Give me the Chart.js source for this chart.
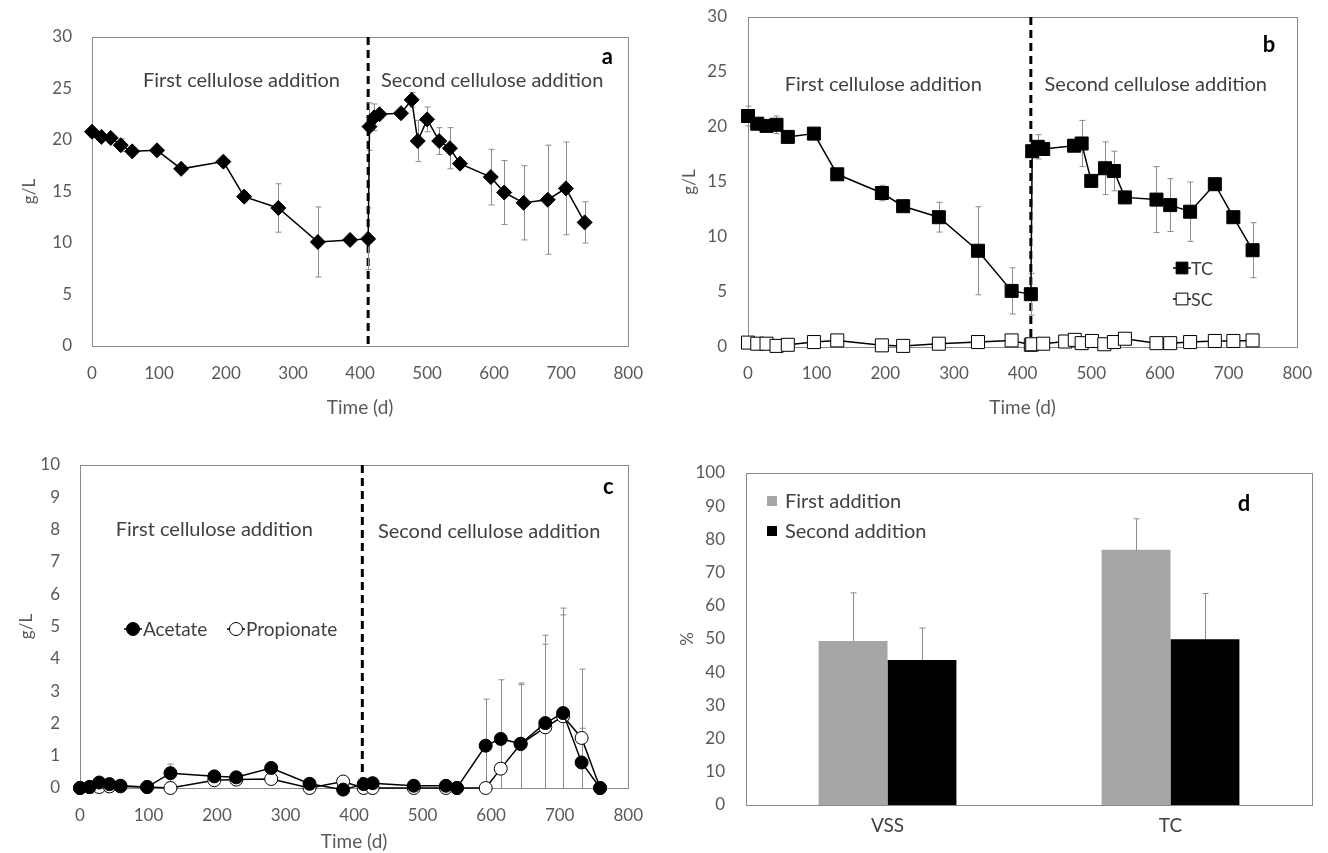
<!DOCTYPE html>
<html>
<head>
<meta charset="utf-8">
<script src="https://cdn.jsdelivr.net/npm/chart.js@4.4.1/dist/chart.umd.min.js"></script>
<style>
  html, body { margin: 0; padding: 0; background: #fff; }
  #wrap { position: relative; width: 1328px; height: 853px; overflow: hidden; }
  #wrap canvas { position: absolute; }
</style>
</head>
<body>
<div id="wrap">
  <canvas id="panelA" style="left:0;top:0" width="660" height="430"></canvas>
  <canvas id="panelB" style="left:660px;top:0" width="668" height="430"></canvas>
  <canvas id="panelC" style="left:0;top:430px" width="660" height="423"></canvas>
  <canvas id="panelD" style="left:660px;top:430px" width="668" height="423"></canvas>
</div>
<script>
// day of the second cellulose addition (dashed line)
const ADDITION_DAY = 412;

// a: cellulose, g/L
const dayA = [0, 14, 28, 43, 60, 97, 133, 196, 227, 278, 337, 385, 412, 414, 421, 429, 461, 477, 486, 500, 518, 534, 549, 595, 615, 644, 680, 707, 735];
const cellA = [20.8, 20.3, 20.2, 19.5, 18.9, 19.0, 17.2, 17.9, 14.5, 13.4, 10.1, 10.3, 10.4, 21.3, 22.2, 22.5, 22.6, 23.9, 19.9, 22.0, 19.9, 19.2, 17.7, 16.4, 14.9, 13.9, 14.2, 15.3, 12.0];
const cellAErr = [0, 0, 0, 0.6, 0, 0, 0, 0, 0.5, 2.35, 3.4, 0, 3.0, 2.3, 1.3, 0, 0, 0.7, 2.0, 1.2, 1.3, 2.0, 0, 2.7, 3.1, 3.6, 5.3, 4.5, 2.0];

// b: total (TC) and soluble (SC) carbohydrates, g/L
const dayTC = [0, 13.5, 27, 41.5, 58, 96, 130, 195, 226, 278, 335, 384, 412, 414, 422, 430, 475, 486, 500, 520, 533, 549, 595, 615, 644, 680, 707, 735];
const tc = [21.0, 20.3, 20.1, 20.2, 19.1, 19.4, 15.7, 14.0, 12.8, 11.8, 8.75, 5.1, 4.8, 17.8, 18.2, 18.0, 18.3, 18.5, 15.1, 16.25, 16.0, 13.6, 13.4, 12.9, 12.3, 14.8, 11.8, 8.8];
const tcErr = [0.9, 0, 0, 0.8, 0, 0, 0, 0.7, 0, 1.35, 4.0, 2.1, 1.9, 0, 1.1, 0, 0, 2.1, 0, 2.4, 1.8, 0, 3.0, 2.4, 2.7, 0, 0, 2.5];
const daySC = [0, 13.5, 27, 41.5, 58, 96, 130, 195, 226, 278, 335, 384, 412, 414, 430, 462, 476, 486, 501, 519, 533, 549, 595, 615, 644, 680, 707, 735];
const sc = [0.4, 0.3, 0.3, 0.1, 0.2, 0.45, 0.6, 0.15, 0.1, 0.3, 0.45, 0.6, 0.2, 0.25, 0.3, 0.5, 0.65, 0.35, 0.55, 0.25, 0.45, 0.75, 0.35, 0.35, 0.45, 0.55, 0.55, 0.6];

// c: volatile fatty acids, g/L
const dayVFA = [0, 14, 28, 43, 59, 98, 132, 196, 228, 279, 335, 384, 414, 427, 487, 534, 550, 592, 614, 643, 679, 705, 732, 759];
const acetate = [0, 0.03, 0.17, 0.12, 0.07, 0.03, 0.46, 0.36, 0.33, 0.62, 0.13, -0.05, 0.12, 0.15, 0.07, 0.07, 0, 1.31, 1.52, 1.37, 2.01, 2.32, 0.79, 0];
const acetateErr = [0, 0, 0, 0, 0, 0, 0.28, 0, 0, 0, 0, 0, 0, 0, 0, 0, 0, 1.44, 1.83, 1.88, 2.72, 3.25, 1.06, 0];
const propionate = [0, 0.03, 0.03, 0.05, 0.05, 0.03, 0, 0.24, 0.26, 0.28, 0, 0.2, 0, 0, 0, 0, 0, 0, 0.6, 1.36, 1.88, 2.22, 1.55, 0];
const propionateErr = [0, 0, 0, 0, 0, 0, 0, 0, 0, 0, 0, 0, 0, 0, 0, 0, 0, 0, 0, 1.84, 2.57, 3.14, 2.13, 0];

// d: removal, %
const removalCats = ['VSS', 'TC'];
const firstAddition = [49.4, 76.9];
const firstAdditionErr = [14.5, 9.3];
const secondAddition = [43.7, 49.9];
const secondAdditionErr = [9.6, 13.8];

Chart.defaults.font.family = 'Lato, "Noto Sans", sans-serif';
Chart.defaults.devicePixelRatio = 1;

const TICK_COLOR = '#595959';
const TEXT_COLOR = '#404040';

const pts = (xs, ys) => xs.map((x, i) => ({ x, y: ys[i] }));

// frame, dashed divider, error bars, labels and legend drawn on top of the chart area
const panelDecor = {
  id: 'panelDecor',
  beforeDatasetsDraw(chart, args, opts) {
    const { ctx, chartArea: a, scales } = chart;
    ctx.save();
    ctx.strokeStyle = '#898989';
    ctx.lineWidth = 1;
    ctx.strokeRect(Math.round(a.left) + 0.5, Math.round(a.top) + 0.5,
      Math.round(a.right - a.left), Math.round(a.bottom - a.top));

    if (opts.divider != null) {
      const x = scales.x.getPixelForValue(opts.divider);
      ctx.strokeStyle = '#000';
      ctx.lineWidth = 3;
      ctx.setLineDash([8, 5]);
      ctx.beginPath();
      ctx.moveTo(x, a.top);
      ctx.lineTo(x, a.bottom);
      ctx.stroke();
      ctx.setLineDash([]);
    }

    ctx.strokeStyle = '#8c8c8c';
    ctx.lineWidth = 1;
    chart.data.datasets.forEach((ds, i) => {
      if (!ds.errors) return;
      chart.getDatasetMeta(i).data.forEach((el, j) => {
        const e = ds.errors[j];
        if (!e) return;
        const d = ds.data[j];
        const v = typeof d === 'number' ? d : d.y;
        const yHi = scales.y.getPixelForValue(v + e);
        const yLo = scales.y.getPixelForValue(v - e);
        const x = Math.round(el.x) + 0.5;
        ctx.beginPath();
        ctx.moveTo(x, Math.max(yHi, a.top));
        ctx.lineTo(x, Math.min(yLo, a.bottom));
        if (yHi >= a.top) { ctx.moveTo(x - 3, yHi); ctx.lineTo(x + 3, yHi); }
        if (yLo <= a.bottom) { ctx.moveTo(x - 3, yLo); ctx.lineTo(x + 3, yLo); }
        ctx.stroke();
      });
    });
    ctx.restore();
  },
  afterDatasetsDraw(chart, args, opts) {
    const { ctx, scales } = chart;
    ctx.save();
    ctx.textBaseline = 'middle';
    (opts.texts || []).forEach(t => {
      ctx.font = (t.bold ? 'bold ' : '') + t.size + 'px ' + Chart.defaults.font.family;
      ctx.fillStyle = t.color || TEXT_COLOR;
      ctx.textAlign = 'center';
      ctx.fillText(t.text, scales.x.getPixelForValue(t.x), scales.y.getPixelForValue(t.y));
    });
    (opts.legend || []).forEach(item => {
      const ds = chart.data.datasets[item.index];
      ctx.lineWidth = ds.borderWidth || 1;
      if (item.kind === 'bar') {
        ctx.fillStyle = ds.backgroundColor;
        ctx.fillRect(item.x - 5, item.y - 5, 10, 10);
      } else {
        ctx.strokeStyle = ds.borderColor;
        ctx.beginPath();
        ctx.moveTo(item.x - 9, item.y);
        ctx.lineTo(item.x + 9, item.y);
        ctx.stroke();
        ctx.fillStyle = ds.pointBackgroundColor;
        ctx.strokeStyle = ds.pointBorderColor;
        ctx.lineWidth = ds.pointBorderWidth;
        Chart.helpers.drawPoint(ctx, {
          pointStyle: ds.pointStyle, radius: item.radius || ds.pointRadius,
          rotation: 0, borderWidth: ds.pointBorderWidth
        }, item.x, item.y);
      }
      ctx.font = item.size + 'px ' + Chart.defaults.font.family;
      ctx.fillStyle = TEXT_COLOR;
      ctx.textAlign = 'left';
      ctx.fillText(ds.label, item.textX, item.y + 1);
    });
    ctx.restore();
  }
};

function valueAxis(max, step, title, width, pad) {
  return {
    min: 0, max,
    ticks: { stepSize: step, color: TICK_COLOR, font: { size: 17 }, padding: pad },
    grid: { display: false, drawTicks: false },
    border: { display: false },
    title: { display: true, text: title, color: TICK_COLOR, font: { size: 17 }, padding: 0 },
    afterFit(s) {
      s.width = width;
      // keep the tick padding from pushing the plot area down
      s.paddingTop = 10;
      s.paddingBottom = 10;
    }
  };
}

function timeAxis(height, pad) {
  return {
    type: 'linear', min: 0, max: 800,
    ticks: { stepSize: 100, color: TICK_COLOR, font: { size: 17 }, padding: pad, maxRotation: 0 },
    grid: { display: false, drawTicks: false },
    border: { display: false },
    title: { display: true, text: 'Time (d)', color: TICK_COLOR, font: { size: 19 }, padding: 0 },
    afterFit(s) { s.height = height; }
  };
}

function lineSeries(label, xs, ys, errs, style) {
  return Object.assign({
    label,
    data: pts(xs, ys),
    errors: errs,
    borderColor: '#000',
    borderWidth: 1.5,
    pointBorderColor: '#000',
    pointBorderWidth: 1,
    tension: 0,
    clip: false
  }, style);
}

function baseOptions(padding, xAxis, yAxis, decor) {
  return {
    responsive: false,
    animation: false,
    events: [],
    layout: { padding },
    scales: { x: xAxis, y: yAxis },
    plugins: { legend: { display: false }, tooltip: { enabled: false }, panelDecor: decor }
  };
}

// a
new Chart(document.getElementById('panelA'), {
  type: 'line',
  data: {
    datasets: [lineSeries('Cellulose', dayA, cellA, cellAErr,
      { pointStyle: 'rectRot', pointRadius: 7.5, pointBackgroundColor: '#000' })]
  },
  options: baseOptions({ left: 19, top: 37, right: 26, bottom: 11 },
    timeAxis(73, 17), valueAxis(30, 5, 'g/L', 73, 20), {
      divider: ADDITION_DAY,
      texts: [
        { text: 'First cellulose addition', x: 223, y: 25.8, size: 20 },
        { text: 'Second cellulose addition', x: 597, y: 25.8, size: 20 },
        { text: 'a', x: 769, y: 28.1, size: 22, bold: true, color: '#000' }
      ]
    }),
  plugins: [panelDecor]
});

// b
new Chart(document.getElementById('panelB'), {
  type: 'line',
  data: {
    datasets: [
      lineSeries('TC', dayTC, tc, tcErr,
        { pointStyle: 'rect', pointRadius: 9.2, pointBackgroundColor: '#000' }),
      lineSeries('SC', daySC, sc, null,
        { pointStyle: 'rect', pointRadius: 9.2, pointBackgroundColor: '#fff' })
    ]
  },
  options: baseOptions({ left: 19, top: 17, right: 28, bottom: 11 },
    timeAxis(72, 16), valueAxis(30, 5, 'g/L', 69, 21), {
      divider: ADDITION_DAY,
      texts: [
        { text: 'First cellulose addition', x: 197, y: 23.9, size: 20 },
        { text: 'Second cellulose addition', x: 594, y: 23.9, size: 20 },
        { text: 'b', x: 759, y: 27.45, size: 22, bold: true, color: '#000' }
      ],
      legend: [
        { index: 0, x: 522, y: 268, textX: 531, size: 18, radius: 8.3 },
        { index: 1, x: 522, y: 299, textX: 531, size: 18, radius: 8.3 }
      ]
    }),
  plugins: [panelDecor]
});

// c
new Chart(document.getElementById('panelC'), {
  type: 'line',
  data: {
    datasets: [
      lineSeries('Acetate', dayVFA, acetate, acetateErr,
        { pointStyle: 'circle', pointRadius: 6.5, pointBackgroundColor: '#000' }),
      lineSeries('Propionate', dayVFA, propionate, propionateErr,
        { pointStyle: 'circle', pointRadius: 6.5, pointBackgroundColor: '#fff' })
    ]
  },
  options: baseOptions({ left: 16, top: 35, right: 28, bottom: 0 },
    timeAxis(65, 17), valueAxis(10, 1, 'g/L', 64, 20), {
      divider: ADDITION_DAY,
      texts: [
        { text: 'First cellulose addition', x: 196, y: 8.0, size: 20 },
        { text: 'Second cellulose addition', x: 597, y: 7.95, size: 20 },
        { text: 'c', x: 771, y: 9.33, size: 22, bold: true, color: '#000' }
      ],
      legend: [
        { index: 0, x: 133, y: 199, textX: 143, size: 19 },
        { index: 1, x: 236, y: 199, textX: 246, size: 19 }
      ]
    }),
  plugins: [panelDecor]
});

// d
new Chart(document.getElementById('panelD'), {
  type: 'bar',
  data: {
    labels: removalCats,
    datasets: [
      { label: 'First addition', data: firstAddition, errors: firstAdditionErr, backgroundColor: '#a6a6a6' },
      { label: 'Second addition', data: secondAddition, errors: secondAdditionErr, backgroundColor: '#000' }
    ]
  },
  options: Object.assign(baseOptions({ left: 17, top: 43, right: 16, bottom: 8 },
    {
      ticks: { color: TEXT_COLOR, font: { size: 19 }, padding: 9 },
      grid: { display: false, drawTicks: false },
      border: { display: false },
      afterFit(s) { s.height = 40; }
    },
    valueAxis(100, 10, '%', 69, 21), {
      texts: [{ text: 'd', x: 1.26, y: 90.8, size: 22, bold: true, color: '#000' }],
      legend: [
        { index: 0, kind: 'bar', x: 112, y: 71, textX: 125, size: 20 },
        { index: 1, kind: 'bar', x: 112, y: 101, textX: 125, size: 20 }
      ]
    }), {
    datasets: { bar: { categoryPercentage: 0.487, barPercentage: 1.0 } }
  }),
  plugins: [panelDecor]
});
</script>
</body>
</html>
